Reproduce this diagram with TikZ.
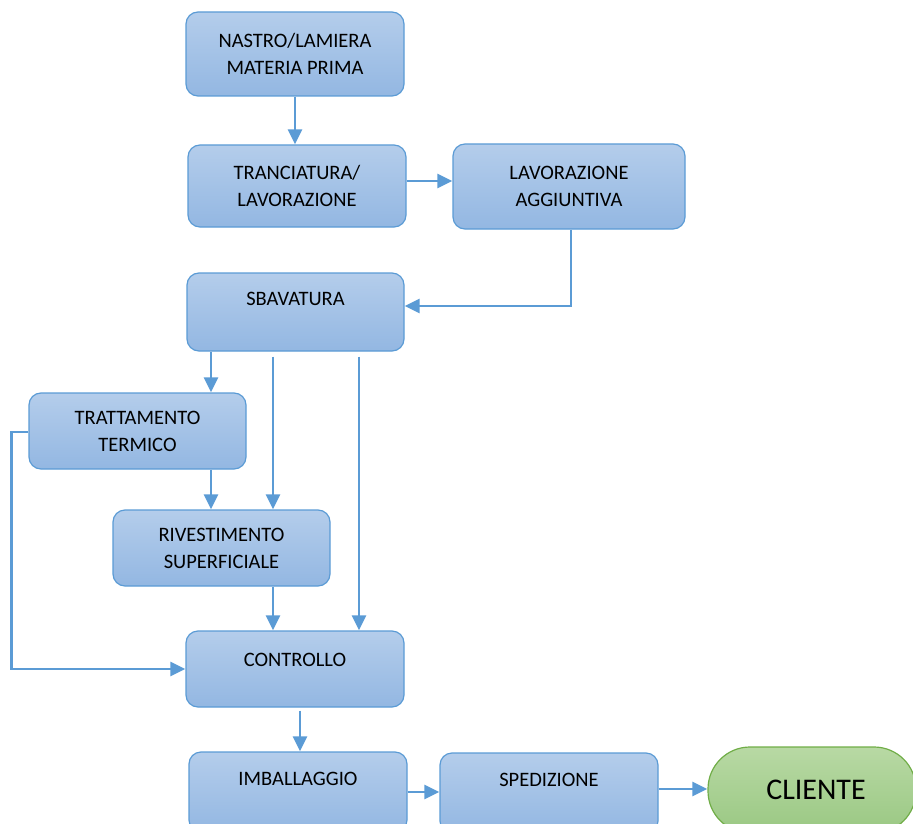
\documentclass[tikz,border=0pt]{standalone}
\usepackage{fontspec}
\setmainfont{Carlito}
\usetikzlibrary{arrows.meta}
\definecolor{boxline}{HTML}{5B9BD5}
\definecolor{boxtop}{HTML}{B4CDEB}
\definecolor{boxbot}{HTML}{93B7E2}
\definecolor{endline}{HTML}{70AD47}
\definecolor{endtop}{HTML}{B8D9A4}
\definecolor{endbot}{HTML}{9AC883}

\begin{document}
\begin{tikzpicture}[x=1pt, y=-1pt,
    stepbox/.style={shape=rectangle, draw=boxline, line width=1.2pt, rounded corners=12pt,
        top color=boxtop, bottom color=boxbot, align=center, inner sep=0pt,
        minimum width=218, minimum height=78, font=\fontsize{20.5}{27}\selectfont},
    endbox/.style={shape=rectangle, draw=endline, line width=1.2pt, rounded corners=42pt,
        top color=endtop, bottom color=endbot, inner sep=0pt,
        font=\fontsize{30}{36}\selectfont},
    flow/.style={draw=boxline, line width=2.8pt, -{Triangle[length=15pt,width=14pt]}}]
        \useasboundingbox (0,0) rectangle (913,824);

        \node[stepbox, minimum height=84] (NA) at (295,54) {NASTRO/LAMIERA\\MATERIA PRIMA};
        \node[stepbox, minimum height=82] (TR) at (297,186) {TRANCIATURA/\\LAVORAZIONE};
        \node[stepbox, minimum width=232, minimum height=85] (LA) at (569,186.5) {LAVORAZIONE\\AGGIUNTIVA};
        \node[stepbox, minimum width=217] (SB) at (295.5,312) {SBAVATURA\\\mbox{}};
        \node[stepbox, minimum width=217, minimum height=76] (TT) at (137.5,431) {TRATTAMENTO\\TERMICO};
        \node[stepbox, minimum width=217, minimum height=76] (RS) at (221.5,548) {RIVESTIMENTO\\SUPERFICIALE};
        \node[stepbox, minimum height=76] (CO) at (295,669) {CONTROLLO\\[-9pt]\mbox{}};
        \node[stepbox, minimum height=80] (IM) at (298,792) {IMBALLAGGIO\\\mbox{}};
        \node[stepbox, minimum height=80] (SP) at (549,793) {SPEDIZIONE\\\mbox{}};
        \node[endbox, minimum width=208, minimum height=86] (CL) at (812,790) {\hspace*{8pt}CLIENTE};

        % helper points on the box borders
        \coordinate (a1) at ([yshift=5pt]TR.east);
        \coordinate (a2) at ([xshift=2pt]LA.south);
        \coordinate (a3) at ([yshift=6pt]SB.east);
        \coordinate (s1) at ([xshift=-84.5pt]SB.south);
        \coordinate (s2) at ([xshift=-22.5pt]SB.south);
        \coordinate (s3) at ([xshift=63.5pt]SB.south);
        \coordinate (t1) at ([xshift=73.5pt]TT.south);
        \coordinate (r1) at ([xshift=51.5pt]RS.south);
        \coordinate (c1) at ([xshift=5pt]CO.south);
        \coordinate (p1) at ([yshift=4pt]SP.east);

        \draw [flow] (NA.south) -- (NA.south |- TR.north);
        \draw [flow] (a1) -- (a1 -| LA.west);
        \draw [flow] (a2) |- (a3);
        \draw [flow] (s1) -- (s1 |- TT.north);
        \draw [flow] ([yshift=-5pt]s2) -- (s2 |- RS.north);
        \draw [flow] ([yshift=-5pt]s3) -- (s3 |- CO.north);
        \draw [flow] (t1) -- (t1 |- RS.north);
        \draw [flow] ([yshift=-1pt]TT.west) -- ++(-17,0) |- (CO.west);
        \draw [flow] (r1) -- (r1 |- CO.north);
        \draw [flow] ([yshift=-3pt]c1) -- (c1 |- IM.north);
        \draw [flow] (IM.east) -- (IM.east -| SP.west);
        \draw [flow] (p1) -- (p1 -| CL.west);
\end{tikzpicture}
\end{document}
